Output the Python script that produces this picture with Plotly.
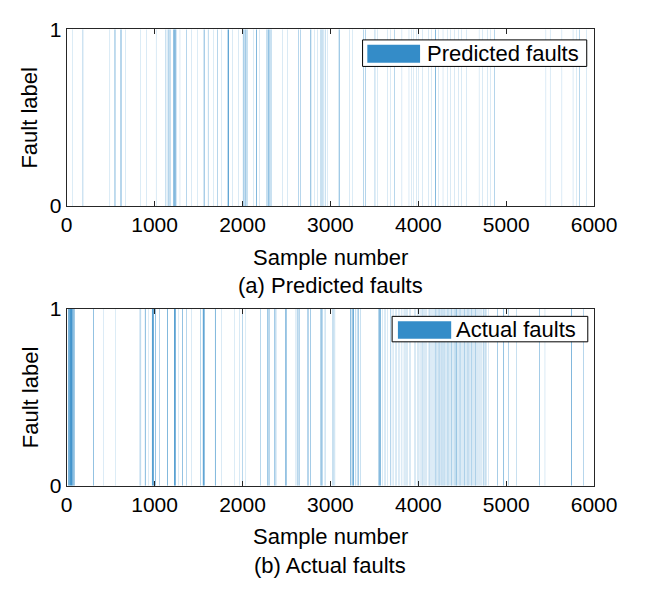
import plotly.graph_objects as go

# ---- data: fault runs as (start sample, run length) ----
pred_runs = [
    (63, 2), (183, 4), (491, 2), (546, 7), (612, 4), (625, 4), (672, 2), (842, 2), (908, 2),
    (1016, 2), (1125, 3), (1140, 3), (1155, 4), (1170, 3), (1180, 3), (1215, 10), (1228, 8),
    (1240, 6), (1288, 2), (1361, 4), (1415, 2), (1487, 2), (1560, 7), (1607, 4), (1669, 2),
    (1715, 4), (1759, 2), (1832, 12), (1886, 2), (1958, 2),
    (2005, 3), (2013, 3), (2021, 3), (2029, 3), (2037, 3), (2045, 3), (2053, 3),
    (2129, 2), (2158, 7), (2194, 2), (2274, 3), (2285, 3), (2295, 6), (2305, 4), (2318, 3),
    (2330, 3), (2455, 2), (2509, 2), (2636, 4), (2660, 4), (2774, 7), (2817, 2), (2853, 2),
    (2889, 3), (2900, 3), (2912, 3), (2925, 3), (2940, 3), (2969, 2), (3096, 7),
    (3215, 2), (3252, 2), (3378, 4), (3397, 4), (3505, 4), (3534, 2), (3650, 2), (3687, 2),
    (3730, 4), (3813, 2), (3893, 2), (3920, 2), (3940, 2), (3976, 2),
    (4002, 2), (4049, 2), (4111, 2), (4147, 2), (4194, 7), (4230, 2), (4280, 2), (4328, 2),
    (4364, 2), (4411, 2), (4455, 2), (4491, 2), (4546, 2), (4690, 2), (4726, 2), (4788, 2),
    (4824, 2), (4864, 4), (5451, 2), (5498, 2), (5633, 2), (5759, 2), (5795, 2), (5832, 4),
    (5911, 2),
]

actual_runs = [
    (15, 5), (22, 12), (36, 12), (50, 14), (66, 10), (80, 6), (90, 3), (302, 6), (418, 2),
    (556, 2), (824, 2), (842, 4), (890, 7), (933, 2), (970, 10), (983, 8), (1005, 6),
    (1052, 4), (1143, 7), (1223, 10), (1235, 7), (1274, 2), (1317, 6), (1361, 4), (1415, 2),
    (1524, 4), (1549, 10), (1560, 8), (1687, 7), (1759, 2), (1904, 2), (1969, 2),
    (1995, 4), (2038, 2), (2201, 4), (2285, 9), (2303, 4), (2364, 5), (2378, 5), (2484, 6),
    (2500, 5), (2607, 3), (2620, 4), (2635, 3), (2648, 4), (2734, 4), (2750, 4), (2768, 5),
    (2889, 8), (2902, 6), (2937, 4), (3020, 3), (3035, 3), (3050, 3), (3228, 8), (3245, 6),
    (3258, 8), (3288, 4), (3305, 3), (3320, 5), (3338, 3), (3549, 10), (3563, 8),
    (3594, 2), (3610, 2), (3628, 2), (3645, 2), (3685, 4), (3700, 2), (3720, 2), (3739, 2),
    (3755, 2), (3777, 2), (3790, 2), (3810, 2), (3825, 2), (3838, 2), (3850, 2), (3866, 2),
    (3880, 2), (3895, 2), (3910, 2), (3958, 2), (3970, 2),
    (3990, 2), (4005, 2), (4018, 3), (4035, 2), (4050, 3), (4062, 2), (4073, 2), (4085, 2),
    (4095, 2), (4110, 2), (4128, 3), (4140, 2), (4150, 2), (4160, 2), (4170, 2), (4182, 2),
    (4192, 3), (4200, 2), (4210, 2), (4220, 2), (4228, 3), (4238, 2), (4245, 2), (4254, 2),
    (4262, 3), (4272, 2), (4280, 2), (4290, 2), (4300, 3), (4310, 2), (4318, 2), (4327, 2),
    (4336, 3), (4345, 2), (4355, 2), (4363, 2), (4372, 3), (4381, 2), (4390, 2), (4400, 2),
    (4409, 3), (4418, 2), (4427, 6), (4436, 2), (4445, 2), (4455, 2), (4465, 2), (4473, 2),
    (4481, 3), (4490, 2), (4500, 2), (4510, 2), (4520, 3), (4529, 2), (4538, 2), (4546, 2),
    (4554, 3), (4565, 2), (4575, 2), (4582, 2), (4590, 2), (4600, 2), (4608, 3), (4617, 2),
    (4625, 2), (4635, 2), (4645, 3), (4654, 2), (4663, 2), (4673, 2), (4685, 2), (4697, 2),
    (4710, 2), (4722, 2), (4735, 3), (4745, 2), (4750, 2), (4764, 3), (4775, 2), (4800, 2),
    (4897, 5), (4969, 6), (5027, 4), (5114, 3), (5379, 5), (5440, 2), (5741, 7), (5875, 4),
]

x_ticks = [0, 1000, 2000, 3000, 4000, 5000, 6000]
y_ticks = [0, 1]
series_names = ["Predicted faults", "Actual faults"]
captions = ["(a) Predicted faults", "(b) Actual faults"]

BAR = "rgb(52,140,200)"
AX = "#262626"
FONT = "Liberation Sans, Arial, sans-serif"
FS = 21

W, H = 652, 589
x0px, x1px = 63.5, 615.5
panels = [(18, 202), (309, 493)]


def runs_to_bars(runs):
    xs = [s + n / 2.0 for s, n in runs]
    ws = [n for s, n in runs]
    ys = [1 for _ in runs]
    return xs, ws, ys


fig = go.Figure()
for i, runs in enumerate([pred_runs, actual_runs]):
    xs, ws, ys = runs_to_bars(runs)
    sfx = "" if i == 0 else str(i + 1)
    fig.add_trace(go.Bar(
        x=xs, y=ys, width=ws, name=series_names[i],
        marker=dict(color=BAR, line=dict(width=0)),
        xaxis="x" + sfx, yaxis="y" + sfx, showlegend=False,
    ))

layout = dict(
    width=W, height=H, margin=dict(l=0, r=0, t=0, b=0),
    paper_bgcolor="white", plot_bgcolor="white",
    font=dict(family=FONT, size=FS, color="black"),
    bargap=0.2, showlegend=False,
)

shapes = []
annotations = []
for i, (ptop, pbot) in enumerate(panels):
    sfx = "" if i == 0 else str(i + 1)
    xname = "xaxis" + sfx
    yname = "yaxis" + sfx
    layout[xname] = dict(
        domain=[x0px / W, x1px / W], range=[0, 6000], anchor="y" + sfx,
        tickvals=x_ticks, ticktext=[str(v) for v in x_ticks],
        ticks="inside", ticklen=5, tickcolor=AX, tickwidth=1,
        showline=True, linecolor=AX, linewidth=1, mirror="ticks",
        showgrid=False, zeroline=False, tickfont=dict(size=FS, color="black"),
    )
    layout[yname] = dict(
        domain=[1 - pbot / H, 1 - ptop / H], range=[0, 1], anchor="x" + sfx,
        tickvals=y_ticks, ticktext=[str(v) for v in y_ticks],
        ticks="inside", ticklen=5, tickcolor=AX, tickwidth=1,
        showline=True, linecolor=AX, linewidth=1, mirror="ticks",
        showgrid=False, zeroline=False, tickfont=dict(size=FS, color="black"),
    )
    xc = (x0px + x1px) / 2 / W
    annotations.append(dict(text="Sample number", x=xc, y=1 - (pbot + 53) / H,
                            xref="paper", yref="paper", showarrow=False,
                            xanchor="center", yanchor="middle", font=dict(size=FS + 1)))
    annotations.append(dict(text=captions[i], x=xc, y=1 - (pbot + 83) / H,
                            xref="paper", yref="paper", showarrow=False,
                            xanchor="center", yanchor="middle", font=dict(size=FS + 1)))
    annotations.append(dict(text="Fault label", x=25 / W, y=1 - (ptop + pbot) / 2 / H,
                            xref="paper", yref="paper", showarrow=False, textangle=-90,
                            xanchor="center", yanchor="middle", font=dict(size=FS + 1)))

# manual legends (box, colour patch, label)
leg = [
    dict(box=(0.561, 0.986, 0.790, 0.940), patch=(0.570, 0.670, 0.811, 0.913), tx=0.680, ty=0.864),
    dict(box=(0.617, 0.988, 0.814, 0.958), patch=(0.628, 0.729, 0.832, 0.931), tx=0.735, ty=0.886),
]
for i, L in enumerate(leg):
    sfx = "" if i == 0 else str(i + 1)
    xr, yr = "x" + sfx + " domain", "y" + sfx + " domain"
    bx0, bx1, by0, by1 = L["box"]
    shapes.append(dict(type="rect", xref=xr, yref=yr, x0=bx0, x1=bx1, y0=by0, y1=by1,
                       fillcolor="white", line=dict(color="black", width=1), layer="above"))
    px0, px1, py0, py1 = L["patch"]
    shapes.append(dict(type="rect", xref=xr, yref=yr, x0=px0, x1=px1, y0=py0, y1=py1,
                       fillcolor=BAR, line=dict(width=0), layer="above"))
    annotations.append(dict(text=series_names[i], x=L["tx"], y=L["ty"], xref=xr, yref=yr,
                            showarrow=False, xanchor="left", yanchor="middle",
                            font=dict(size=FS + 1, color="black")))

layout["shapes"] = shapes
layout["annotations"] = annotations
fig.update_layout(**layout)

fig.write_html("out.html", config={"staticPlot": True})
